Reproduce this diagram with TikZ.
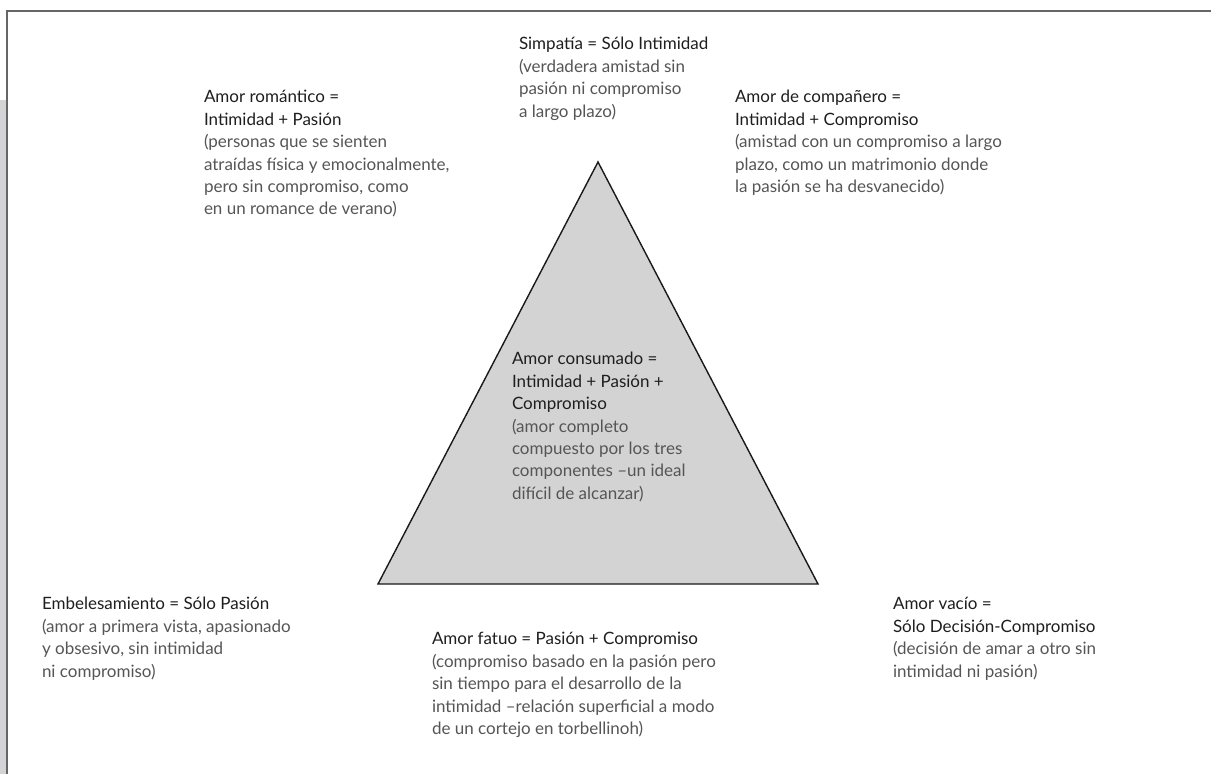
\documentclass[tikz,border=0pt]{standalone}
\usepackage{fontspec}
\setmainfont{Lato}
\definecolor{framegray}{HTML}{666666}
\definecolor{bargray}{HTML}{D4D4D6}
\definecolor{trifill}{HTML}{D3D3D3}
\definecolor{headc}{HTML}{1E1E1E}
\definecolor{bodyc}{HTML}{555555}
\newcommand{\hd}[1]{{\color{headc}#1}}
\tikzset{
  blk/.style={anchor=north west, inner sep=0pt, outer sep=0pt, align=left,
    font=\fontsize{17}{22.4}\selectfont, text=bodyc},
  tri/.style={draw=black!90, line width=1.4pt, fill=trifill, line join=miter},
  frm/.style={draw=framegray, line width=2pt}
}
\begin{document}
\begin{tikzpicture}[x=1pt,y=-1pt]
\useasboundingbox (0,0) rectangle (1211,774);
\fill[bargray] (0,100) rectangle (5.5,774);
\coordinate (fb) at (6.5,774);
\coordinate (fc) at (6.5,11);
\coordinate (fr) at (1211,11);
\draw[frm] (fb) -- (fc) -- (fr);
\coordinate (A) at (598,162);
\coordinate (B) at (378,584);
\coordinate (C) at (818,584);
\draw[tri] (A) -- (B) -- (C) -- cycle;
\node[blk] (simp) at (519,34.3) {\strut\hd{Simpatía = Sólo Intimidad}\\(verdadera amistad sin\\pasión ni compromiso\\a largo plazo)};
\node[blk] (roma) at (204,87.3) {\strut\hd{Amor romántico =}\\\hd{Intimidad + Pasión}\\(personas que se sienten\\atraídas física y emocionalmente,\\pero sin compromiso, como\\en un romance de verano)};
\node[blk] (comp) at (735,87.3) {\strut\hd{Amor de compañero =}\\\hd{Intimidad + Compromiso}\\(amistad con un compromiso a largo\\plazo, como un matrimonio donde\\la pasión se ha desvanecido)};
\node[blk] (cons) at (512,349.3) {\strut\hd{Amor consumado =}\\\hd{Intimidad + Pasión +}\\\hd{Compromiso}\\(amor completo\\compuesto por los tres\\componentes –un ideal\\difícil de alcanzar)};
\node[blk] (embe) at (42,594.3) {\strut\hd{Embelesamiento = Sólo Pasión}\\(amor a primera vista, apasionado\\y obsesivo, sin intimidad\\ni compromiso)};
\node[blk] (vaci) at (893,594.3) {\strut\hd{Amor vacío =}\\\hd{Sólo Decisión-Compromiso}\\(decisión de amar a otro sin\\intimidad ni pasión)};
\node[blk] (fatu) at (432,629.3) {\strut\hd{Amor fatuo = Pasión + Compromiso}\\(compromiso basado en la pasión pero\\sin tiempo para el desarrollo de la\\intimidad –relación superficial a modo\\de un cortejo en torbellinoh)};
\end{tikzpicture}
\end{document}
